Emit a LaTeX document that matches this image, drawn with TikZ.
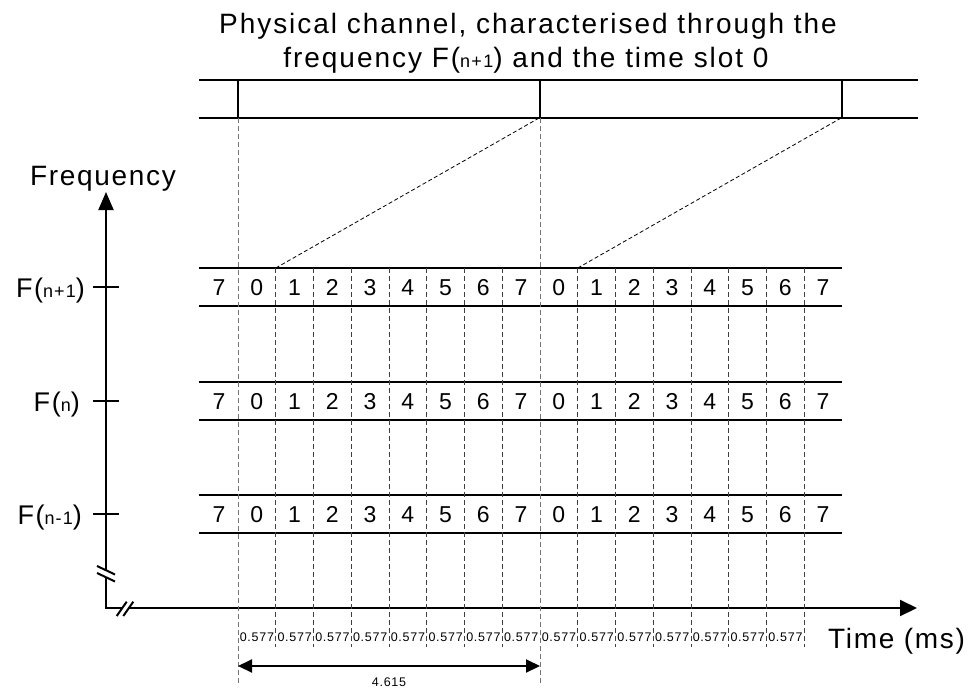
\documentclass[tikz,border=0pt]{standalone}
\usepackage{fontspec}
\setmainfont{Liberation Sans}[LetterSpace=6]
\usetikzlibrary{arrows.meta,calc}
\newcommand{\Fsub}[1]{F({\fontsize{18}{18}\selectfont #1})}
\tikzset{
  thickline/.style={line width=2pt},
  slotline/.style={line width=1pt,black!75,dash pattern=on 5pt off 3pt},
  frameline/.style={line width=1pt,black!55,dash pattern=on 5pt off 3pt},
  hopline/.style={line width=0.8pt,dash pattern=on 4pt off 2.5pt},
  bigtext/.style={font=\fontsize{28}{34}\selectfont,inner sep=0pt},
  slotnum/.style={font=\fontsize{23}{23}\selectfont,inner sep=0pt,anchor=base},
  flabel/.style={font=\fontsize{27}{27}\selectfont,inner sep=0pt,anchor=base east},
  duration/.style={font=\fontsize{12.5}{12.5}\selectfont,inner sep=0pt,anchor=base},
  bigtip/.style={-{Triangle[length=18pt,width=15pt]}}
}
\begin{document}
\begin{tikzpicture}[x=1pt,y=-1pt]
\useasboundingbox (0,0) rectangle (972,691);
					%TITLE
					\node[bigtext,anchor=base] (title1) at (528,33) {\addfontfeature{LetterSpace=7}Physical channel, characterised through the};
					\node[bigtext,anchor=base] (title2) at (526,67) {\addfontfeature{LetterSpace=7}frequency \Fsub{n+1} and the time slot 0};
					%PHYSICAL CHANNEL
					\draw[thickline] (199,80) -- (918,80) (199,117.5) -- (918,117.5);
					\foreach \x/\n in {238/a,540/b,842/c}
						\draw[thickline] (\x,80) -- (\x,117.5) coordinate (band\n);
					%AXES
					\coordinate (O) at (106,608);
					\draw[thickline] (106,577) -- (O) -- (121.7,608);
					\draw[thickline,bigtip] (106,570) -- (106,192) coordinate (ytip);
					\draw[thickline,-{Triangle[length=17pt,width=16pt]}] (128.3,608) -- (917,608) coordinate (xtip);
					\draw[thickline] (97,566) -- (115,574.5) (97,573) -- (115,581.5);
					\draw[thickline] (116.7,616) -- (126.7,601.7) (123.3,616) -- (133.3,601.7);
					\node[bigtext,anchor=base] (freq) at (103,185) {Frequency};
					\node[bigtext,anchor=base] (time) at (896.5,648) {Time (ms)};
					%CARRIERS
					\foreach \y/\r/\xl/\f in {287/a/85/n+1,401/b/80/n,514/c/82/n-1}{
						\draw[thickline] (199,\y-19) -- (842,\y-19) (199,\y+19) -- (842,\y+19);
						\draw[thickline] (93,\y) -- (119,\y);
						\node[flabel] (f\r) at (\xl,\y+10) {\Fsub{\f}};
						\foreach \k [evaluate=\k as \d using {int(mod(\k+7,8))}] in {0,...,16}
							\node[slotnum] (s\r\k) at (219.1+37.75*\k,\y+8.3) {\d};
					}
					%SLOT BOUNDARIES
					\foreach \k in {1,...,7,9,10,...,15}
						\draw[slotline] (238+37.75*\k,268) coordinate (t\k) -- (238+37.75*\k,647);
					\foreach \k in {0,8}
						\draw[frameline] (238+37.75*\k,117.5) -- (238+37.75*\k,685) coordinate (b\k);
					\draw[hopline] (t1) -- (bandb);
					\draw[hopline] (t9) -- (bandc);
					\foreach \k in {0,...,14}
						\node[duration] (d\k) at (256.9+37.75*\k,641.5) {0.577};
					%FRAME DURATION
					\draw[thickline,{Triangle[length=14pt,width=13pt]}-{Triangle[length=14pt,width=13pt]}] ($(b0)+(0,-19)$) -- ($(b8)+(0,-19)$);
					\node[duration] (frame) at (389,686.5) {4.615};
\end{tikzpicture}
\end{document}
